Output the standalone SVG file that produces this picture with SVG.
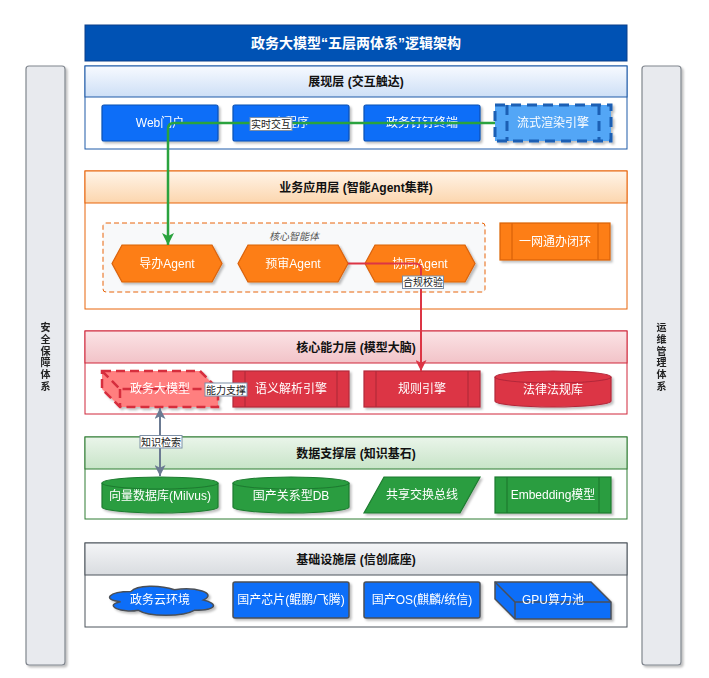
<svg xmlns="http://www.w3.org/2000/svg" width="709" height="678" viewBox="0 0 709 678">
<style>
text{font-family:"Liberation Sans","Noto Sans CJK SC",sans-serif}
.nt{fill:#fff;font-size:12px;text-anchor:middle}
.ht{fill:#111;font-size:12px;font-weight:bold;text-anchor:middle}
.lb{fill:#222;font-size:10px;text-anchor:middle}
.lbx{fill:#fff;stroke:#7d8fa6;stroke-width:1}
.side{fill:#e8eaee;stroke:#80868e;stroke-width:1.2}
.st{fill:#222;font-size:10px;font-weight:bold;text-anchor:middle}
.blue{fill:#0d6ef8;stroke:#0b4fb3;stroke-width:1.2}
.iblue{fill:#0d6ef8;stroke:#4a4f57;stroke-width:1.5}
.org{fill:#fd7e14;stroke:#d9620b;stroke-width:1.2}
.red{fill:#dc3545;stroke:#b3283a;stroke-width:1.2}
.grn{fill:#2a9d3f;stroke:#1e7b30;stroke-width:1.2}
.inl{fill:none}
</style>
<defs>
<filter id="sh" x="-10%" y="-15%" width="130%" height="150%"><feDropShadow dx="2" dy="2" stdDeviation="1.3" flood-color="#000" flood-opacity="0.25"/></filter>
<linearGradient id="gB" x1="0" y1="0" x2="0" y2="1"><stop offset="0" stop-color="#f7faff"/><stop offset="1" stop-color="#cddff6"/></linearGradient>
<linearGradient id="gO" x1="0" y1="0" x2="0" y2="1"><stop offset="0" stop-color="#fff4e8"/><stop offset="1" stop-color="#fcd6ae"/></linearGradient>
<linearGradient id="gR" x1="0" y1="0" x2="0" y2="1"><stop offset="0" stop-color="#fbe3e5"/><stop offset="1" stop-color="#f2c3c8"/></linearGradient>
<linearGradient id="gG" x1="0" y1="0" x2="0" y2="1"><stop offset="0" stop-color="#eaf5ea"/><stop offset="1" stop-color="#c8e4c8"/></linearGradient>
<linearGradient id="gK" x1="0" y1="0" x2="0" y2="1"><stop offset="0" stop-color="#f4f5f7"/><stop offset="1" stop-color="#d9dce0"/></linearGradient>
<marker id="mG" viewBox="0 0 10 10" refX="10" refY="5" markerWidth="12" markerHeight="12" markerUnits="userSpaceOnUse" orient="auto"><path d="M0,0 L10,5 L0,10 L2.5,5 Z" fill="#2aa33e"/></marker>
<marker id="mR" viewBox="0 0 10 10" refX="10" refY="5" markerWidth="11" markerHeight="11" markerUnits="userSpaceOnUse" orient="auto"><path d="M0,0 L10,5 L0,10 L2.5,5 Z" fill="#dc3545"/></marker>
<marker id="mK" viewBox="0 0 10 10" refX="10" refY="5" markerWidth="11" markerHeight="11" markerUnits="userSpaceOnUse" orient="auto-start-reverse"><path d="M0,0 L10,5 L0,10 L2.5,5 Z" fill="#6b7a92"/></marker>
</defs>
<rect width="709" height="678" fill="#fff"/>

<g id="side-security" filter="url(#sh)">
<rect class="side" x="26" y="66" width="39" height="599" rx="3"/>
<text class="st" x="45.5" y="331"><tspan x="45.5">安</tspan><tspan x="45.5" dy="11.8">全</tspan><tspan x="45.5" dy="11.8">保</tspan><tspan x="45.5" dy="11.8">障</tspan><tspan x="45.5" dy="11.8">体</tspan><tspan x="45.5" dy="11.8">系</tspan></text>
</g>
<g id="side-ops" filter="url(#sh)">
<rect class="side" x="642" y="66" width="39" height="599" rx="3"/>
<text class="st" x="661.5" y="331"><tspan x="661.5">运</tspan><tspan x="661.5" dy="11.8">维</tspan><tspan x="661.5" dy="11.8">管</tspan><tspan x="661.5" dy="11.8">理</tspan><tspan x="661.5" dy="11.8">体</tspan><tspan x="661.5" dy="11.8">系</tspan></text>
</g>

<g id="title">
<rect x="85" y="25" width="542" height="36" fill="#0052b4" stroke="#0a3f8a" stroke-width="1"/>
<text x="356" y="48" fill="#fff" font-size="14" font-weight="bold" text-anchor="middle">政务大模型“五层两体系”逻辑架构</text>
</g>

<g id="layer-display">
<rect x="85" y="66" width="542" height="83" fill="#fff" stroke="#1e5aa8" stroke-width="1"/>
<rect x="85" y="66" width="542" height="31" fill="url(#gB)" stroke="#1e5aa8" stroke-width="1"/>
<text class="ht" x="356" y="86">展现层 (交互触达)</text>
</g>
<g id="layer-business">
<rect x="85" y="171" width="542" height="138" fill="#fff" stroke="#e8650a" stroke-width="1"/>
<rect x="85" y="171" width="542" height="32" fill="url(#gO)" stroke="#e8650a" stroke-width="1"/>
<text class="ht" x="356" y="191.5">业务应用层 (智能Agent集群)</text>
</g>
<g id="layer-core">
<rect x="85" y="331" width="542" height="83" fill="#fff" stroke="#d0273a" stroke-width="1"/>
<rect x="85" y="331" width="542" height="32" fill="url(#gR)" stroke="#d0273a" stroke-width="1"/>
<text class="ht" x="356" y="351.5">核心能力层 (模型大脑)</text>
</g>
<g id="layer-data">
<rect x="85" y="437" width="542" height="82" fill="#fff" stroke="#2e7d32" stroke-width="1"/>
<rect x="85" y="437" width="542" height="32" fill="url(#gG)" stroke="#2e7d32" stroke-width="1"/>
<text class="ht" x="356" y="457.5">数据支撑层 (知识基石)</text>
</g>
<g id="layer-infra">
<rect x="85" y="543" width="542" height="84" fill="#fff" stroke="#4d545c" stroke-width="1"/>
<rect x="85" y="543" width="542" height="32" fill="url(#gK)" stroke="#4d545c" stroke-width="1"/>
<text class="ht" x="356" y="563.5">基础设施层 (信创底座)</text>
</g>

<!-- display nodes -->
<g id="n-web" filter="url(#sh)"><rect class="blue" x="102" y="105" width="116" height="36" rx="2"/><text class="nt" x="160" y="127">Web门户</text></g>
<g id="n-mini" filter="url(#sh)"><rect class="blue" x="233" y="105" width="116" height="36" rx="2"/><text class="nt" x="291" y="127">小程序</text></g>
<g id="n-ding" filter="url(#sh)"><rect class="blue" x="364" y="105" width="116" height="36" rx="2"/><text class="nt" x="422" y="127">政务钉钉终端</text></g>
<g id="n-stream" filter="url(#sh)"><rect x="495" y="105" width="116" height="36" fill="#52a6f6" stroke="#1a5fb4" stroke-width="3" stroke-dasharray="10 6"/><path d="M507,105 V141 M599,105 V141" stroke="#1a5fb4" stroke-width="3" stroke-dasharray="10 6" fill="none"/><text class="nt" x="553" y="127">流式渲染引擎</text></g>

<!-- business nodes -->
<g id="g-agents"><rect x="103" y="223" width="382" height="69" rx="3" fill="#f8f9fa" stroke="#e8650a" stroke-width="1" stroke-dasharray="5 3"/><text x="294" y="239.5" fill="#555" font-size="10" font-style="italic" text-anchor="middle">核心智能体</text></g>
<g id="n-guide" filter="url(#sh)"><path class="org" d="M112,263.5 L122,245 H212 L222,263.5 L212,282 H122 Z"/><text class="nt" x="167" y="267.5">导办Agent</text></g>
<g id="n-pre" filter="url(#sh)"><path class="org" d="M238,263.5 L248,245 H338 L348,263.5 L338,282 H248 Z"/><text class="nt" x="293" y="267.5">预审Agent</text></g>
<g id="n-coop" filter="url(#sh)"><path class="org" d="M365,263.5 L375,245 H465 L475,263.5 L465,282 H375 Z"/><text class="nt" x="420" y="267.5">协同Agent</text></g>
<g id="n-loop" filter="url(#sh)"><rect class="org" x="500" y="223" width="110" height="37"/><path class="org inl" d="M512,223 V260 M598,223 V260"/><text class="nt" x="555" y="245.5">一网通办闭环</text></g>

<!-- core nodes -->
<g id="n-llm" filter="url(#sh)"><path d="M102,371 H200 L218,389 V407 H120 L102,389 Z" fill="#ff7f7f" stroke="#d62d3d" stroke-width="2.5" stroke-dasharray="9 5"/><path d="M102,371 L120,389 H218 M120,389 V407" fill="none" stroke="#d62d3d" stroke-width="2.5" stroke-dasharray="9 5"/><text class="nt" x="160" y="393">政务大模型</text></g>
<g id="n-nlp" filter="url(#sh)"><rect class="red" x="233" y="371" width="116" height="36"/><path class="red inl" d="M245,371 V407 M337,371 V407"/><text class="nt" x="291" y="393">语义解析引擎</text></g>
<g id="n-rule" filter="url(#sh)"><rect class="red" x="364" y="371" width="116" height="36"/><path class="red inl" d="M376,371 V407 M468,371 V407"/><text class="nt" x="422" y="393">规则引擎</text></g>
<g id="n-law" filter="url(#sh)"><path class="red" d="M495,377 A58,6 0 0 1 611,377 V401 A58,6 0 0 1 495,401 Z"/><path class="red inl" d="M495,377 A58,6 0 0 0 611,377"/><text class="nt" x="553" y="394">法律法规库</text></g>

<!-- data nodes -->
<g id="n-vec" filter="url(#sh)"><path class="grn" d="M102,483 A58,6 0 0 1 218,483 V507 A58,6 0 0 1 102,507 Z"/><path class="grn inl" d="M102,483 A58,6 0 0 0 218,483"/><text class="nt" x="160" y="500">向量数据库(Milvus)</text></g>
<g id="n-rdb" filter="url(#sh)"><path class="grn" d="M233,483 A58,6 0 0 1 349,483 V507 A58,6 0 0 1 233,507 Z"/><path class="grn inl" d="M233,483 A58,6 0 0 0 349,483"/><text class="nt" x="291" y="500">国产关系型DB</text></g>
<g id="n-bus" filter="url(#sh)"><path class="grn" d="M384,477 H480 L460,513 H364 Z"/><text class="nt" x="422" y="499">共享交换总线</text></g>
<g id="n-emb" filter="url(#sh)"><rect class="grn" x="495" y="477" width="116" height="36"/><path class="grn inl" d="M507,477 V513 M599,477 V513"/><text class="nt" x="553" y="499">Embedding模型</text></g>

<!-- infra nodes -->
<g id="n-cloud" filter="url(#sh)"><path class="iblue" d="M131,591.5 C107.8,591.5 102,600 120.6,601.7 C102,605.4 122.9,613.6 138,610.2 C148.4,617 183.2,617 194.8,610.2 C218,610.2 218,603.4 203.5,600 C218,593.2 194.8,586.4 174.5,589.8 C160,584.7 136.8,584.7 131,591.5 Z"/><text class="nt" x="160" y="604">政务云环境</text></g>
<g id="n-chip" filter="url(#sh)"><rect class="iblue" x="233" y="582" width="116" height="36" rx="2"/><text class="nt" x="291" y="604">国产芯片(鲲鹏/飞腾)</text></g>
<g id="n-os" filter="url(#sh)"><rect class="iblue" x="364" y="582" width="116" height="36" rx="2"/><text class="nt" x="422" y="604">国产OS(麒麟/统信)</text></g>
<g id="n-gpu" filter="url(#sh)"><path class="iblue" d="M495,582 H591 L611,602 V619 H515 L495,599 Z"/><path class="iblue inl" d="M495,582 L515,602 H611 M515,602 V619"/><text class="nt" x="553" y="604">GPU算力池</text></g>

<g id="connectors" fill="none" stroke-width="2">
<path d="M495,123 H174 Q168,123 168,129 V245" stroke="#2aa33e" stroke-width="2.5" marker-end="url(#mG)"/>
<path d="M348,263.5 H415 Q421,263.5 421,269.5 V371" stroke="#dc3545" marker-end="url(#mR)"/>
<path d="M160,408 V476" stroke="#6b7a92" marker-start="url(#mK)" marker-end="url(#mK)"/>
<path d="M218,389 H233" stroke="#6b7a92" stroke-width="1.5"/>
<g id="labels" stroke-width="1">
<rect class="lbx" x="250" y="117.5" width="42" height="13"/><text class="lb" x="271" y="128" stroke="none">实时交互</text>
<rect class="lbx" x="402.5" y="276" width="41" height="12.5"/><text class="lb" x="423" y="286" stroke="none">合规校验</text>
<rect class="lbx" x="140" y="435.5" width="42" height="12.5"/><text class="lb" x="161" y="445.5" stroke="none">知识检索</text>
<rect class="lbx" x="205" y="383" width="42" height="13"/><text class="lb" x="226" y="393.5" stroke="none">能力支撑</text>
</g>
</g>
</svg>
